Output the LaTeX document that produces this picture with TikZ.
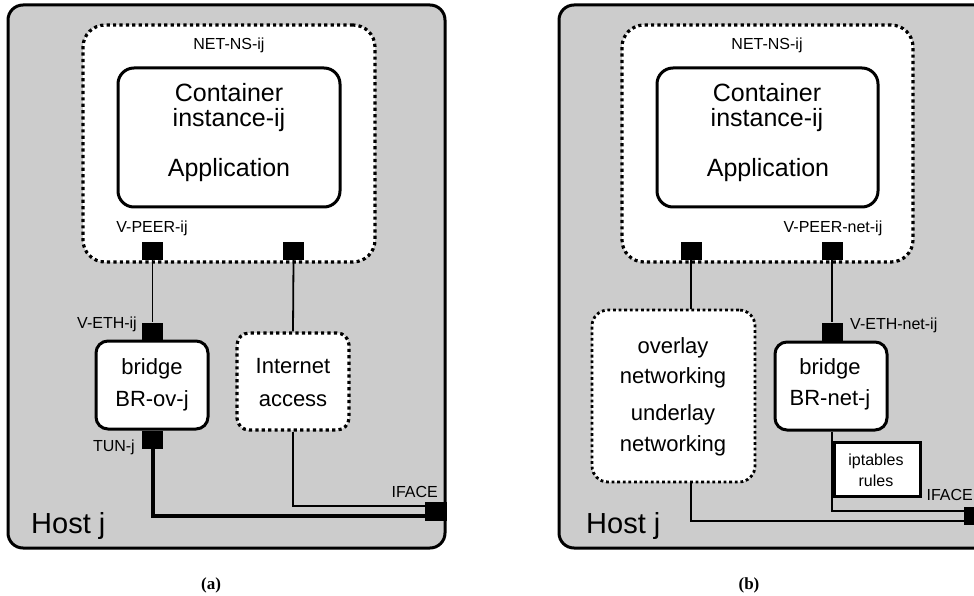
\documentclass[tikz,border=0pt]{standalone}
\usepackage{fontspec}
\setmainfont{Liberation Sans}
\newfontfamily\capfont{Liberation Serif}
\definecolor{hostgray}{RGB}{204,204,204}
\begin{document}
\begin{tikzpicture}[x=1pt,y=-1pt,
  host/.style={draw, line width=3pt, rounded corners=15pt, fill=hostgray, inner sep=0pt},
  solidbox/.style={draw, line width=3pt, rounded corners=14pt, fill=white, inner sep=0pt},
  dotbox/.style={draw, line width=3.2pt, dash pattern=on 3.2pt off 3.2pt, rounded corners=#1, fill=white, inner sep=0pt},
  dotbox/.default=20pt,
  rulebox/.style={draw, line width=3pt, fill=white, inner sep=0pt},
  port/.style={fill=black, minimum width=21pt, minimum height=18pt, inner sep=0pt},
  lbl/.style={font=\fontsize{16}{19}\selectfont, inner sep=0pt},
  bigtxt/.style={font=\fontsize{25}{25}\selectfont, inner sep=0pt, anchor=base},
  midtxt/.style={font=\fontsize{22}{26}\selectfont, inner sep=0pt, anchor=base},
  hosttxt/.style={font=\fontsize{29}{32}\selectfont, inner sep=0pt, anchor=base west},
  captxt/.style={font=\capfont\bfseries\fontsize{17}{20}\selectfont, inner sep=0pt, anchor=base},
  wire/.style={line width=1.8pt},
  thickwire/.style={line width=4pt}]
\useasboundingbox (0,0) rectangle (974,596);

% ---------------- panel (a) ----------------
\node[host, minimum width=437pt, minimum height=543pt] (hostA) at (226.5,276.5) {};
\node[dotbox=22pt, minimum width=292pt, minimum height=237pt] (nsA) at (229,143.5) {};
\node[solidbox, rounded corners=16pt, minimum width=222pt, minimum height=139pt] (contA) at (229,137.5) {};
\node[solidbox, rounded corners=12pt, minimum width=112pt, minimum height=88pt] (brA) at (152,385) {};
\node[dotbox=12pt, minimum width=112pt, minimum height=97pt] (inetA) at (293,381.5) {};

\node[lbl, anchor=base] (nsAlbl) at (229,50) {NET-NS-ij};
\node[bigtxt] (contA1) at (229,102) {Container};
\node[bigtxt] (contA2) at (229,127) {instance-ij};
\node[bigtxt] (contA3) at (229,177) {Application};
\node[lbl, anchor=base] (vpeerAlbl) at (152,233) {V-PEER-ij};
\node[lbl, anchor=base east] (vethAlbl) at (137,328) {V-ETH-ij};
\node[lbl, anchor=base east] (tunAlbl) at (135,451) {TUN-j};
\node[lbl, anchor=base east] (ifaceAlbl) at (438,497) {IFACE};
\node[midtxt] (brA1) at (152,374) {bridge};
\node[midtxt] (brA2) at (152,406) {BR-ov-j};
\node[midtxt] (inetA1) at (293,373) {Internet};
\node[midtxt] (inetA2) at (293,406) {access};
\node[hosttxt] (hostAlbl) at (31,533) {Host j};

\node[port] (vpeerA) at (152.5,251) {};
\node[port] (p2A) at (293.5,251) {};
\node[port] (vethA) at (152.5,331.5) {};
\node[port] (tunA) at (152.5,439.5) {};
\node[port, minimum width=22pt, minimum height=19pt] (ifaceA) at (436,511.5) {};

\draw[wire] (vpeerA.south) -- (vethA.north);
\draw[wire] (p2A.south) -- (inetA.north);
\draw[wire] (inetA.south) |- ([yshift=5.5pt]ifaceA.west);
\draw[thickwire] (tunA.south) |- ([yshift=-4.5pt]ifaceA.west);

\node[captxt] (capA) at (211,589) {(a)};

% ---------------- panel (b) ----------------
\node[host, minimum width=431pt, minimum height=543pt] (hostB) at (774.5,276.5) {};
\node[dotbox=22pt, minimum width=291pt, minimum height=237pt] (nsB) at (767.5,143.5) {};
\node[solidbox, rounded corners=16pt, minimum width=221pt, minimum height=139pt] (contB) at (767.5,137.5) {};
\node[dotbox=16pt, line width=2.8pt, dash pattern=on 2.8pt off 2.8pt, minimum width=163pt, minimum height=172pt] (ovB) at (673.5,396) {};
\node[solidbox, rounded corners=12pt, minimum width=112pt, minimum height=88pt] (brB) at (831,386) {};

\node[lbl, anchor=base] (nsBlbl) at (767,50) {NET-NS-ij};
\node[bigtxt] (contB1) at (767,102) {Container};
\node[bigtxt] (contB2) at (767,127) {instance-ij};
\node[bigtxt] (contB3) at (768,177) {Application};
\node[lbl, anchor=base] (vpeerBlbl) at (833,233) {V-PEER-net-ij};
\node[lbl, anchor=base west] (vethBlbl) at (850,329) {V-ETH-net-ij};
\node[midtxt] (ovB1) at (673,353) {overlay};
\node[midtxt] (ovB2) at (673,383) {networking};
\node[midtxt] (ovB3) at (673,420) {underlay};
\node[midtxt] (ovB4) at (673,451) {networking};
\node[midtxt] (brB1) at (830,374) {bridge};
\node[midtxt] (brB2) at (830,405) {BR-net-j};
\node[hosttxt] (hostBlbl) at (586,533) {Host j};

\node[port] (pLB) at (691,251) {};
\node[port] (vpeerB) at (832,251) {};
\node[port] (vethB) at (832,331.5) {};
\node[port, minimum width=21pt, minimum height=18pt] (ifaceB) at (974.5,515.5) {};

\draw[wire] (pLB.south) -- (pLB.south |- ovB.north);
\draw[wire] (pLB.south |- ovB.south) |- ([yshift=-5.5pt]ifaceB.west);
\draw[wire] (vpeerB.south) -- (vethB.north);
\draw[wire] (brB.south -| vethB) |- ([yshift=4.5pt]ifaceB.west);

\node[rulebox, minimum width=86pt, minimum height=54pt] (ipt) at (877,469) {};
\node[lbl, anchor=base] (ipt1) at (876,465) {iptables};
\node[lbl, anchor=base] (ipt2) at (876,486) {rules};
\node[lbl, anchor=base east] (ifaceBlbl) at (973,500) {IFACE};

\node[captxt] (capB) at (749,589) {(b)};
\end{tikzpicture}
\end{document}
